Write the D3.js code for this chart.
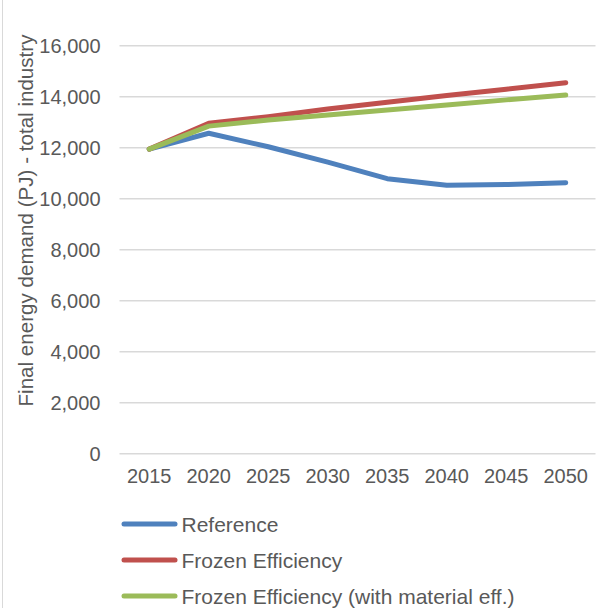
<!DOCTYPE html>
<html><head><meta charset="utf-8">
<script src="https://cdn.jsdelivr.net/npm/d3@7"></script>
<style>body{margin:0;background:#fff}svg{display:block}text{font-family:"Liberation Sans",Arial,sans-serif}</style>
</head><body><svg id="c" width="613" height="608"></svg>
<script>
const years = ["2015","2020","2025","2030","2035","2040","2045","2050"];
const reference = [11930, 12550, 12020, 11420, 10770, 10510, 10540, 10610];
const frozen = [11930, 12940, 13200, 13500, 13770, 14030, 14280, 14530];
const frozenMat = [11930, 12830, 13070, 13270, 13460, 13660, 13860, 14050];
const yTicks = [0, 2000, 4000, 6000, 8000, 10000, 12000, 14000, 16000];
const seriesNames = ["Reference", "Frozen Efficiency", "Frozen Efficiency (with material eff.)"];
const colors = ["#4f81bd", "#c0504d", "#9bbb59"];

const svg = d3.select("#c");
const x = d3.scaleBand().domain(years).range([119.5, 595.5]);
const y = d3.scaleLinear().domain([0, 16000]).range([453.3, 45.3]);
const fmt = d3.format(",");

svg.append("line").attr("x1",2.5).attr("x2",2.5).attr("y1",0).attr("y2",608).attr("stroke","#d9d9d9");

const ga = svg.append("g").attr("transform","translate(119.5,0)")
  .call(d3.axisLeft(y).tickValues(yTicks).tickFormat(fmt).tickSize(-476).tickPadding(19));
ga.select(".domain").remove();
ga.selectAll(".tick line").attr("stroke","#d9d9d9").attr("stroke-width",1.5);
ga.selectAll(".tick text").attr("fill","#595959").style("font-size","20px").attr("dy","0.35em");

const gx = svg.append("g").attr("transform","translate(0,453.3)")
  .call(d3.axisBottom(x).tickSize(0).tickPadding(16));
gx.select(".domain").remove();
gx.selectAll(".tick text").attr("fill","#595959").style("font-size","20px");

svg.append("text").attr("transform","translate(32.5,220.5) rotate(-90)")
  .attr("text-anchor","middle").attr("fill","#595959").style("font-size","20.6px")
  .text("Final energy demand (PJ) - total industry");

const line = d3.line().x((d,i)=>x(years[i])+x.bandwidth()/2).y(d=>y(d));
[reference, frozen, frozenMat].forEach((s,i)=>{
  svg.append("path").datum(s).attr("d",line).attr("fill","none")
    .attr("stroke",colors[i]).attr("stroke-width",5).attr("stroke-linecap","round").attr("stroke-linejoin","round");
});
const leg = svg.append("g");
seriesNames.forEach((n,i)=>{
  const ly = 524 + i*36;
  leg.append("line").attr("x1",124).attr("x2",175).attr("y1",ly).attr("y2",ly)
    .attr("stroke",colors[i]).attr("stroke-width",5).attr("stroke-linecap","round");
  leg.append("text").attr("x",181.5).attr("y",ly+7.5).attr("fill","#595959").style("font-size","21px").text(n);
});
</script></body></html>
